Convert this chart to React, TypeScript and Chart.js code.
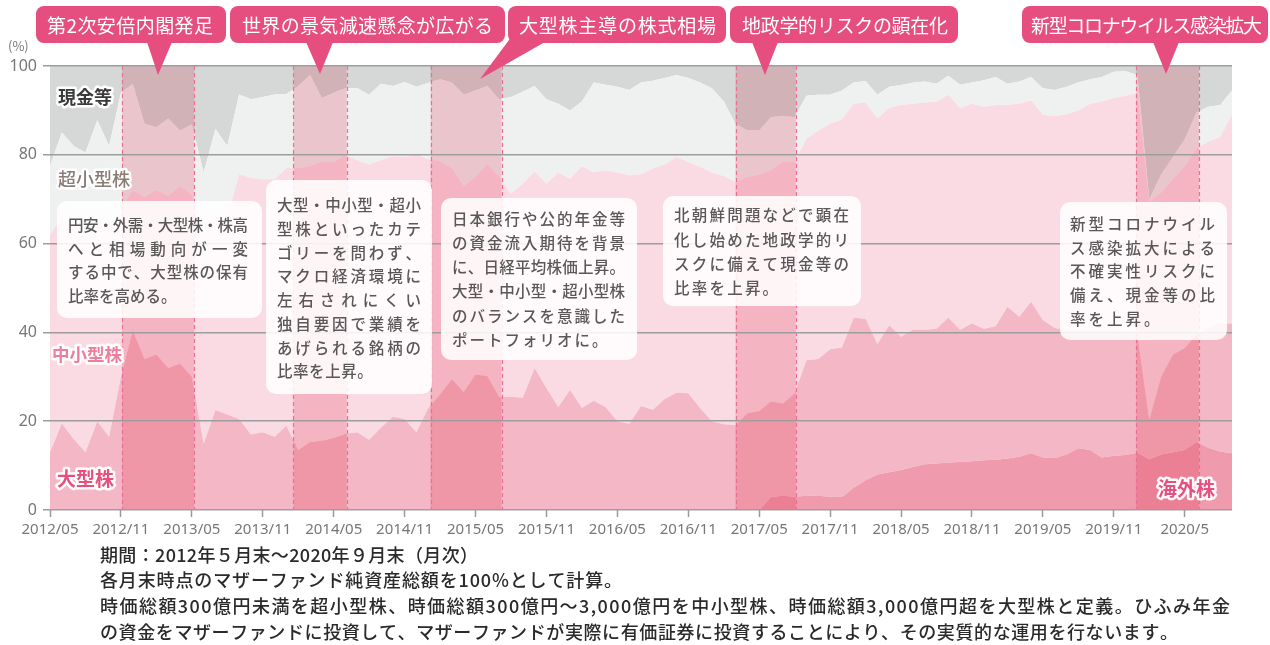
import React, { useEffect, useRef } from 'react';
import { Chart, registerables } from 'chart.js';

Chart.register(...registerables);

// ---------- data ----------
const START_YEAR = 2012;
const START_MONTH = 5;
const MONTH_COUNT = 101; // 2012/05 .. 2020/09

const months: string[] = [];
for (let k = 0; k < MONTH_COUNT; k++) {
  const m = START_MONTH - 1 + k;
  months.push(`${START_YEAR + Math.floor(m / 12)}/${String((m % 12) + 1).padStart(2, '0')}`);
}

const tickLabels = [
  '2012/05', '2012/11', '2013/05', '2013/11', '2014/05', '2014/11', '2015/05', '2015/11',
  '2016/05', '2016/11', '2017/05', '2017/11', '2018/05', '2018/11', '2019/05', '2019/11', '2020/5',
];

const seriesNames = ['海外株', '大型株', '中小型株', '超小型株', '現金等'];

const overseas = [
  0, 0, 0, 0, 0, 0, 0, 0, 0, 0,
  0, 0, 0, 0, 0, 0, 0, 0, 0, 0,
  0, 0, 0, 0, 0, 0, 0, 0, 0, 0,
  0, 0, 0, 0, 0, 0, 0, 0, 0, 0,
  0, 0, 0, 0, 0, 0, 0, 0, 0, 0,
  0, 0, 0, 0, 0, 0, 0, 0, 0, 0,
  0, 2.9, 3.2, 3.0, 3.2, 3.2, 3.0, 2.9, 5.0, 6.7,
  8.0, 8.5, 9.0, 9.7, 10.3, 10.5, 10.7, 10.8, 11.0, 11.2,
  11.3, 11.6, 12.0, 12.8, 11.8, 11.7, 12.5, 13.9, 13.5, 11.8,
  12.2, 12.4, 12.9, 11.4, 12.5, 13.0, 13.5, 15.3, 14.0, 13.2, 12.8,
];

const largeCap = [
  13, 19.5, 16, 13, 20, 16.5, 30, 40.5, 34, 35,
  32, 33, 30, 15, 22.5, 21.5, 20.5, 17, 17.5, 16.5,
  19, 13.5, 15.3, 15.6, 16.2, 17.2, 17.5, 15.8, 18.5, 21,
  20.5, 17.5, 23, 26, 29.5, 26.6, 30.5, 30.2, 25.5, 25.5,
  25.3, 32, 27.5, 23.2, 27, 23, 24.6, 23.2, 20, 19.4,
  23.4, 22.6, 25, 26.4, 26.3, 23, 20, 19.3, 19.1, 21.8,
  22.3, 21.6, 20.8, 23.3, 30.5, 30.8, 33.2, 33.7, 38.3, 36.4,
  29.4, 33.1, 30, 30.9, 30.3, 30.3, 32.6, 29.8, 31, 29.6,
  30.1, 34.2, 31.5, 34.1, 31, 29.3, 28, 26.6, 27, 28.7,
  28.3, 27.6, 26.6, 8.9, 17.5, 22, 23, 24.2, 27, 28.8, 29.2,
];

const midSmallCap = [
  49, 46.5, 48, 49, 46, 46.5, 38, 31.5, 36.5, 37,
  38.8, 40, 41, 47, 44.5, 44.5, 55.2, 57.8, 57, 58,
  58, 63.5, 62.2, 62.8, 62.2, 62.8, 61.3, 62, 60.3, 58.7,
  59, 62.8, 56, 52.5, 47.5, 46.4, 44.5, 47.8, 49.5, 45.8,
  48.2, 44.3, 46, 52.8, 47.6, 54.5, 51.4, 53.3, 56, 56,
  52.2, 54.3, 52.8, 53.1, 52.1, 54.3, 56, 55.9, 54.8, 53.2,
  53.2, 52, 54.5, 52.2, 49.9, 51.5, 50.8, 51.4, 48.2, 48.7,
  50.8, 49, 52.2, 50.9, 51.2, 51.2, 50.2, 49.9, 49.5, 50,
  49.8, 45.5, 48, 45.4, 46.2, 47.7, 48.7, 49.5, 51, 51.5,
  52.3, 53.3, 54.5, 49.2, 41.5, 39.5, 41, 42, 42, 42, 47,
];

const microCap = [
  15.5, 19, 18, 18.5, 21.8, 19, 26, 24, 16.5, 14.2,
  17.4, 12.5, 15.8, 14, 18.8, 16, 17.9, 17.7, 18.5, 19.1,
  16.7, 18.5, 20.5, 14.4, 15.6, 15, 16.2, 15.7, 17.2, 15.8,
  16.9, 15, 17.2, 18.5, 19.3, 20.5, 19.5, 17.5, 17.5, 21.7,
  20.7, 19.2, 19, 15.5, 15.4, 14.5, 20.3, 19.3, 19.3, 19.2,
  20.7, 19.8, 19.5, 18.5, 18.9, 19, 19, 16.8, 13.1, 10.5,
  10, 12, 10.2, 10, 9.7, 8, 6.5, 6.5, 4.8, 4.8,
  5.3, 4.7, 4.5, 4.7, 4.7, 4, 4.3, 5.3, 4.8, 6,
  6.3, 4.7, 5, 5.2, 6, 5.9, 6.1, 6.3, 5.5, 5.5,
  5.9, 5.5, 4, 0.5, 4, 5, 6, 8, 7.8, 7.2, 5.5,
];

const cash = [
  22.5, 15, 18, 19.5, 12.2, 18, 6, 4, 13, 13.8,
  11.8, 14.5, 13.2, 24, 14.2, 18, 6.4, 7.5, 7, 6.4,
  6.3, 4.5, 2, 7.2, 6, 5, 5, 6.5, 4, 4.5,
  3.6, 4.7, 3.8, 3, 3.7, 6.5, 5.5, 4.5, 7.5, 7,
  5.8, 4.5, 7.5, 8.5, 10, 8, 3.7, 4.2, 4.7, 5.4,
  3.7, 3.3, 2.7, 2, 2.7, 3.7, 5, 8, 13, 14.5,
  14.5, 11.5, 11.3, 11.5, 6.7, 6.5, 6.5, 5.5, 3.7, 3.4,
  6.5, 4.7, 4.3, 3.8, 3.5, 4, 2.2, 4.2, 3.7, 3.2,
  2.5, 4, 3.5, 2.5, 5, 5.4, 4.7, 3.7, 3, 2.5,
  1.3, 1.2, 2, 30, 24.5, 20.5, 16.5, 10.5, 9.2, 8.8, 5.5,
];

// event periods, in month-index units along the category axis
const eventBands: [number, number][] = [
  [6.1, 12.2], [20.6, 25.1], [32.2, 38.2], [58.0, 63.1], [91.9, 97.2],
];

const calloutTexts = [
  '第2次安倍内閣発足', '世界の景気減速懸念が広がる', '大型株主導の株式相場',
  '地政学的リスクの顕在化', '新型コロナウイルス感染拡大',
];

const noteTexts: string[][] = [
  ['円安・外需・大型株・株高', 'へと相場動向が一変', 'する中で、大型株の保有', '比率を高める。'],
  ['大型・中小型・超小', '型株といったカテ', 'ゴリーを問わず、', 'マクロ経済環境に', '左右されにくい', '独自要因で業績を', 'あげられる銘柄の', '比率を上昇。'],
  ['日本銀行や公的年金等', 'の資金流入期待を背景', 'に、日経平均株価上昇。', '大型・中小型・超小型株', 'のバランスを意識した', 'ポートフォリオに。'],
  ['北朝鮮問題などで顕在', '化し始めた地政学的リ', 'スクに備えて現金等の', '比率を上昇。'],
  ['新型コロナウイル', 'ス感染拡大による', '不確実性リスクに', '備え、現金等の比', '率を上昇。'],
];

const footnotes = [
  '期間：2012年５月末～2020年９月末（月次）',
  '各月末時点のマザーファンド純資産総額を100%として計算。',
  '時価総額300億円未満を超小型株、時価総額300億円～3,000億円を中小型株、時価総額3,000億円超を大型株と定義。ひふみ年金',
  'の資金をマザーファンドに投資して、マザーファンドが実際に有価証券に投資することにより、その実質的な運用を行ないます。',
];

// ---------- layout / style ----------
const FONT_JP = '"Noto Sans CJK JP", "Noto Sans", sans-serif';
const PINK = '#e54e7e';

const calloutBoxes = [
  { x: 36, y: 6, w: 190, h: 37, tx: 47, tw: 166, tail: [[147, 42], [172, 42], [158, 75]] },
  { x: 230, y: 6, w: 275, h: 37, tx: 242, tw: 251, tail: [[306, 42], [333, 42], [320, 74]] },
  { x: 508, y: 6, w: 218, h: 37, tx: 519, tw: 197, tail: [[512, 36], [545, 42], [480, 79]] },
  { x: 730, y: 6, w: 228, h: 37, tx: 742, tw: 206, tail: [[752, 42], [778, 42], [765, 75]] },
  { x: 1022, y: 6, w: 246, h: 37, tx: 1031, tw: 231, tail: [[1153, 42], [1179, 42], [1166, 74]] },
];

const noteBoxes = [
  { x: 57, y: 201, w: 205, h: 117, tx: 68, tw: 180, y0: 225, lh: 23.7 },
  { x: 266, y: 180, w: 166, h: 214, tx: 277, tw: 144, y0: 205.5, lh: 23.7 },
  { x: 441, y: 198, w: 196, h: 162, tx: 452, tw: 173, y0: 219, lh: 24.2 },
  { x: 663, y: 196, w: 198, h: 110, tx: 674, tw: 175, y0: 215.5, lh: 24.2 },
  { x: 1060, y: 202, w: 167, h: 138, tx: 1070, tw: 145, y0: 224, lh: 23.7 },
];

const footnoteLayout = [
  { x: 100, y: 555, w: 378 },
  { x: 100, y: 580, w: 522 },
  { x: 100, y: 606, w: 1130 },
  { x: 100, y: 632, w: 1078 },
];

const seriesLabels = [
  { text: '現金等', x: 58, y: 97, font: `bold 18px ${FONT_JP}`, color: '#3a3a3a' },
  { text: '超小型株', x: 58, y: 179, font: `500 18px ${FONT_JP}`, color: '#887c74' },
  { text: '中小型株', x: 52, y: 354, font: `bold 17.5px ${FONT_JP}`, color: '#ee7f9c' },
  { text: '大型株', x: 57, y: 479, font: `bold 19px ${FONT_JP}`, color: '#e5507f' },
  { text: '海外株', x: 1158, y: 489, font: `bold 19px ${FONT_JP}`, color: '#e5507f' },
];

function roundRectPath(ctx: CanvasRenderingContext2D, x: number, y: number, w: number, h: number, r: number) {
  ctx.beginPath();
  ctx.moveTo(x + r, y);
  ctx.lineTo(x + w - r, y);
  ctx.arcTo(x + w, y, x + w, y + r, r);
  ctx.lineTo(x + w, y + h - r);
  ctx.arcTo(x + w, y + h, x + w - r, y + h, r);
  ctx.lineTo(x + r, y + h);
  ctx.arcTo(x, y + h, x, y + h - r, r);
  ctx.lineTo(x, y + r);
  ctx.arcTo(x, y, x + r, y, r);
  ctx.closePath();
}

// draws text char by char; returns the gap used
function drawSpaced(ctx: CanvasRenderingContext2D, text: string, x: number, y: number, width: number | null, gapOverride?: number) {
  const chars = Array.from(text);
  const widths = chars.map((c) => ctx.measureText(c).width);
  const total = widths.reduce((a, b) => a + b, 0);
  let gap = 0;
  if (width !== null && chars.length > 1) gap = (width - total) / (chars.length - 1);
  if (gapOverride !== undefined) gap = gapOverride;
  let cx = x;
  chars.forEach((c, i) => {
    ctx.fillText(c, cx, y);
    cx += widths[i] + gap;
  });
  return gap;
}

const bandPlugin = {
  id: 'eventBands',
  afterDatasetsDraw(chart: any) {
    const { ctx, chartArea } = chart;
    const x = chart.scales.x;
    ctx.save();
    ctx.globalCompositeOperation = 'multiply';
    ctx.fillStyle = 'rgb(250,210,217)';
    eventBands.forEach(([a, b]) => {
      const x1 = x.getPixelForValue(a);
      const x2 = x.getPixelForValue(b);
      ctx.fillRect(x1, chartArea.top, x2 - x1, chartArea.bottom - chartArea.top);
    });
    ctx.restore();
    ctx.save();
    ctx.strokeStyle = '#ea6f96';
    ctx.lineWidth = 1.2;
    ctx.setLineDash([4, 3]);
    eventBands.forEach(([a, b]) => {
      [a, b].forEach((v) => {
        const px = Math.round(x.getPixelForValue(v)) + 0.5;
        ctx.beginPath();
        ctx.moveTo(px, chartArea.top);
        ctx.lineTo(px, chartArea.bottom);
        ctx.stroke();
      });
    });
    ctx.restore();
  },
};

const overlayPlugin = {
  id: 'overlay',
  afterDraw(chart: any) {
    const ctx: CanvasRenderingContext2D = chart.ctx;
    ctx.save();
    ctx.textBaseline = 'middle';
    ctx.textAlign = 'left';

    // series labels with halo
    seriesLabels.forEach((l) => {
      ctx.font = l.font;
      ctx.lineJoin = 'round';
      ctx.strokeStyle = 'rgba(255,255,255,0.95)';
      ctx.lineWidth = 5;
      ctx.strokeText(l.text, l.x, l.y);
      ctx.fillStyle = l.color;
      ctx.fillText(l.text, l.x, l.y);
    });

    // note boxes
    noteBoxes.forEach((b, bi) => {
      ctx.fillStyle = 'rgba(255,255,255,0.86)';
      roundRectPath(ctx, b.x, b.y, b.w, b.h, 10);
      ctx.fill();
      ctx.fillStyle = '#595757';
      ctx.font = `500 15.5px ${FONT_JP}`;
      const lines = noteTexts[bi];
      let firstGap = 0;
      lines.forEach((line, li) => {
        const isLast = li === lines.length - 1;
        if (isLast) drawSpaced(ctx, line, b.tx, b.y0 + li * b.lh, null, Math.max(0, firstGap));
        else {
          const g = drawSpaced(ctx, line, b.tx, b.y0 + li * b.lh, b.tw);
          if (li === 0) firstGap = g;
        }
      });
    });

    // callouts
    calloutBoxes.forEach((c, ci) => {
      ctx.fillStyle = PINK;
      roundRectPath(ctx, c.x, c.y, c.w, c.h, 8);
      ctx.fill();
      ctx.beginPath();
      ctx.moveTo(c.tail[0][0], c.tail[0][1]);
      ctx.lineTo(c.tail[1][0], c.tail[1][1]);
      ctx.lineTo(c.tail[2][0], c.tail[2][1]);
      ctx.closePath();
      ctx.fill();
      ctx.fillStyle = '#ffffff';
      ctx.font = `19px ${FONT_JP}`;
      drawSpaced(ctx, calloutTexts[ci], c.tx, c.y + c.h / 2 + 1, c.tw);
    });

    // unit
    ctx.fillStyle = '#777';
    ctx.font = `13px ${FONT_JP}`;
    ctx.fillText('(%)', 8, 46);

    // footnotes
    ctx.fillStyle = '#2a2a2a';
    ctx.font = `500 18px ${FONT_JP}`;
    footnotes.forEach((t, i) => {
      const f = footnoteLayout[i];
      drawSpaced(ctx, t, f.x, f.y, f.w);
    });
    ctx.restore();
  },
};

export default function App() {
  const ref = useRef<HTMLCanvasElement | null>(null);

  useEffect(() => {
    document.body.style.margin = '0';
    const canvas = ref.current;
    if (!canvas) return;
    const colors = ['#f09aae', '#f4b7c5', '#fadbe4', '#eff1f0', '#d6d8d7'];
    const values = [overseas, largeCap, midSmallCap, microCap, cash];
    const chart = new Chart(canvas, {
      type: 'line',
      data: {
        labels: months,
        datasets: values.map((d, i) => ({
          label: seriesNames[i],
          data: d,
          backgroundColor: colors[i],
          borderColor: 'rgba(0,0,0,0)',
          borderWidth: 0,
          pointRadius: 0,
          tension: 0,
          fill: i === 0 ? 'origin' : '-1',
        })),
      },
      options: {
        responsive: false,
        animation: false,
        devicePixelRatio: 1,
        layout: { padding: { top: 66, right: 38, bottom: 100, left: 0 } },
        plugins: { legend: { display: false }, tooltip: { enabled: false } },
        scales: {
          x: {
            type: 'category',
            offset: false,
            border: { display: false },
            grid: {
              drawOnChartArea: false,
              drawTicks: true,
              tickLength: 7,
              tickColor: (c: any) => (c.index % 6 === 0 ? '#9a9a9a' : 'rgba(0,0,0,0)'),
              tickWidth: 1.5,
            },
            ticks: {
              autoSkip: false,
              maxRotation: 0,
              minRotation: 0,
              padding: 4,
              color: '#777777',
              font: { family: '"Noto Sans", sans-serif', size: 15 },
              callback: (_v: any, i: number) => (i % 6 === 0 ? tickLabels[i / 6] : ''),
            },
            afterFit: (s: any) => { s.height = 35; },
          },
          y: {
            stacked: true,
            min: 0,
            max: 100,
            border: { display: false },
            grid: { z: 1, color: '#9d9d9d', lineWidth: 1.5, tickLength: 7 },
            ticks: {
              stepSize: 20,
              padding: 6,
              color: '#777777',
              font: { family: '"Noto Sans", sans-serif', size: 16 },
            },
            afterFit: (s: any) => { s.width = 50; },
          },
        },
      } as any,
      plugins: [bandPlugin, overlayPlugin],
    });
    return () => chart.destroy();
  }, []);

  return (
    <div style={{ width: 1270, height: 645 }}>
      <canvas ref={ref} width={1270} height={645} style={{ display: 'block', width: 1270, height: 645 }} />
    </div>
  );
}
